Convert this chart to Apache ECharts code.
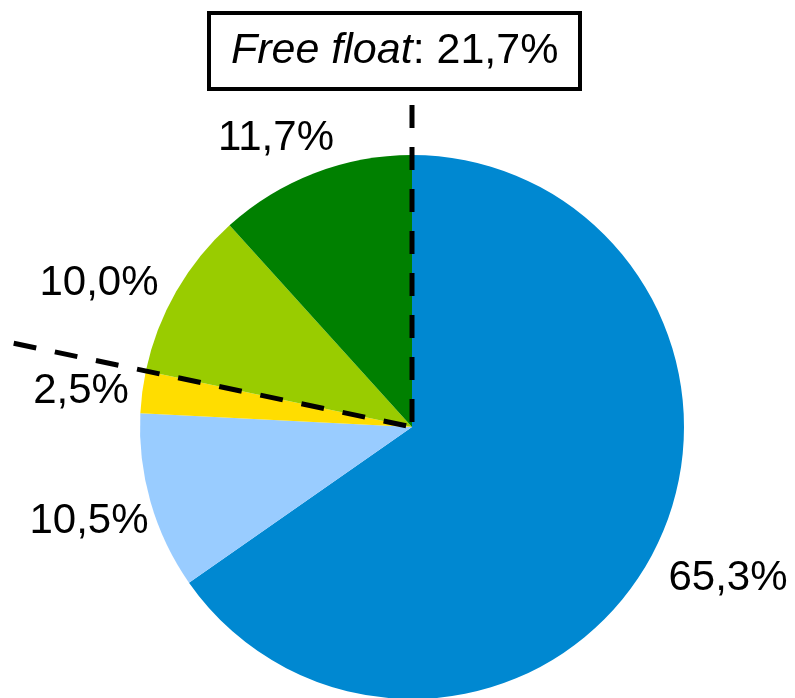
<!DOCTYPE html>
<html>
<head>
<meta charset="utf-8">
<script src="https://cdn.jsdelivr.net/npm/echarts@6/dist/echarts.min.js"></script>
<style>
html,body{margin:0;padding:0;background:#fff;}
#chart{width:795px;height:698px;}
</style>
</head>
<body>
<div id="chart"></div>
<script>
// ---- data ----
const categories = ['Shareholder A', 'Shareholder B', 'Shareholder C', 'Shareholder D', 'Shareholder E'];
const values = [65.3, 10.5, 2.5, 10.0, 11.7];
const freeFloatIndices = [3, 4];
const freeFloatLabel = 'Free float';

// ---- styling / layout ----
const colors = ['#0088D1', '#99CCFF', '#FFDD00', '#99CC00', '#008000'];
const CX = 412, CY = 427, R = 272;
const labelPos = [[728, 578], [89, 521], [81, 391], [99, 283], [276, 138]];
const FONT = 'Liberation Sans, Arial, sans-serif';

const fmt = v => v.toFixed(1).replace('.', ',') + '%';
const total = values.reduce((a, b) => a + b, 0);
const freeFloat = freeFloatIndices.reduce((a, i) => a + values[i], 0);

// angle (clockwise from top) of boundary where free float starts
const cumBefore = values.slice(0, freeFloatIndices[0]).reduce((a, b) => a + b, 0);
const boundaryDeg = cumBefore / total * 360;
function pt(deg, len) {
  const r = deg * Math.PI / 180;
  return [CX + Math.sin(r) * len, CY - Math.cos(r) * len];
}
const leftEnd = pt(boundaryDeg, 407);
const topEnd = pt(0, 322);

const chart = echarts.init(document.getElementById('chart'), null, {renderer: 'canvas'});
chart.setOption({
  animation: false,
  backgroundColor: '#ffffff',
  title: {
    text: '{i|' + freeFloatLabel + '}{n|: ' + fmt(freeFloat) + '}',
    left: 209,
    top: 13,
    padding: [17, 22, 16, 22],
    borderColor: '#000',
    borderWidth: 4,
    textStyle: {
      fontWeight: 'normal',
      rich: {
        i: {fontFamily: FONT, fontSize: 43, fontStyle: 'italic', fontWeight: 'normal', color: '#000'},
        n: {fontFamily: FONT, fontSize: 43, fontWeight: 'normal', color: '#000'}
      }
    }
  },
  series: [{
    type: 'pie',
    center: [CX, CY],
    radius: R,
    startAngle: 90,
    clockwise: true,
    avoidLabelOverlap: false,
    silent: true,
    data: categories.map((c, i) => ({name: c, value: values[i], itemStyle: {color: colors[i]}})),
    itemStyle: {borderWidth: 0},
    label: {
      show: true,
      position: 'outside',
      formatter: p => fmt(p.value),
      fontFamily: FONT,
      fontSize: 42,
      color: '#000'
    },
    labelLine: {show: false},
    labelLayout: p => ({
      x: labelPos[p.dataIndex][0],
      y: labelPos[p.dataIndex][1],
      align: 'center',
      verticalAlign: 'middle'
    }),
    emphasis: {disabled: true}
  }],
  graphic: [
    {
      type: 'line', z: 100,
      shape: {x1: topEnd[0], y1: topEnd[1], x2: CX, y2: CY},
      style: {stroke: '#000', lineWidth: 5, lineDash: [23, 19]}
    },
    {
      type: 'line', z: 100,
      shape: {x1: leftEnd[0], y1: leftEnd[1], x2: CX, y2: CY},
      style: {stroke: '#000', lineWidth: 5, lineDash: [23, 19]}
    }
  ]
});
</script>
</body>
</html>
